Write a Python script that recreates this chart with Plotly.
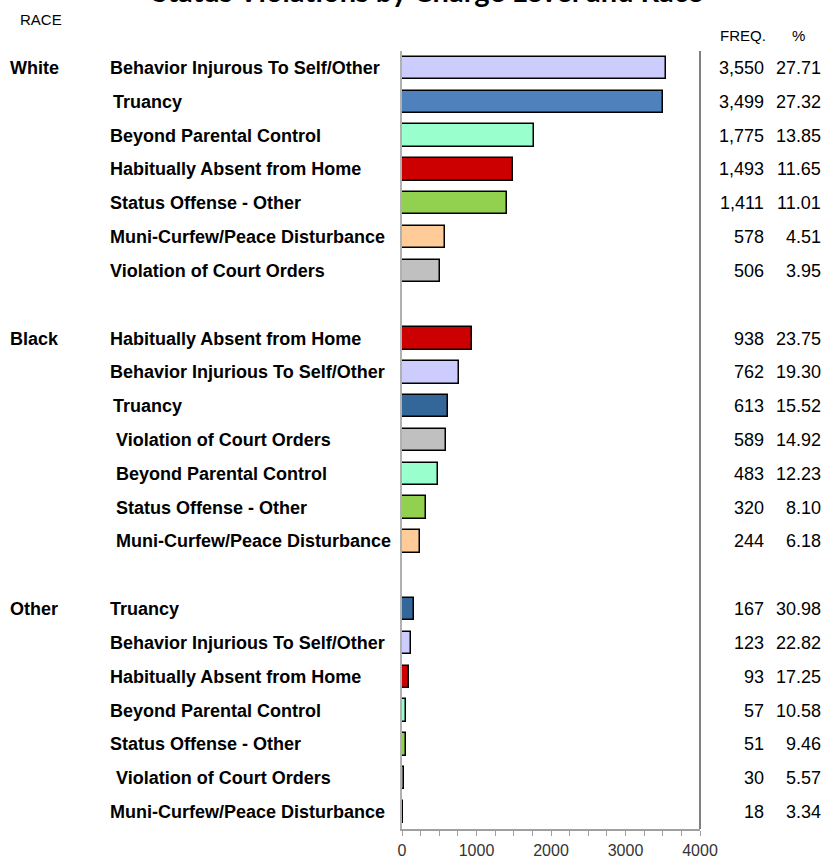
import plotly.graph_objects as go

# ---------------- data ----------------
races = ["White", "Black", "Other"]

white_labels = ["Behavior Injurous To Self/Other", "Truancy", "Beyond Parental Control",
                "Habitually Absent from Home", "Status Offense - Other",
                "Muni-Curfew/Peace Disturbance", "Violation of Court Orders"]
white_charges = ["Behavior Injurious To Self/Other", "Truancy", "Beyond Parental Control",
                 "Habitually Absent from Home", "Status Offense - Other",
                 "Muni-Curfew/Peace Disturbance", "Violation of Court Orders"]
white_freq = [3550, 3499, 1775, 1493, 1411, 578, 506]
white_pct = [27.71, 27.32, 13.85, 11.65, 11.01, 4.51, 3.95]

black_charges = ["Habitually Absent from Home", "Behavior Injurious To Self/Other", "Truancy",
                 "Violation of Court Orders", "Beyond Parental Control",
                 "Status Offense - Other", "Muni-Curfew/Peace Disturbance"]
black_labels = black_charges
black_freq = [938, 762, 613, 589, 483, 320, 244]
black_pct = [23.75, 19.30, 15.52, 14.92, 12.23, 8.10, 6.18]

other_charges = ["Truancy", "Behavior Injurious To Self/Other", "Habitually Absent from Home",
                 "Beyond Parental Control", "Status Offense - Other",
                 "Violation of Court Orders", "Muni-Curfew/Peace Disturbance"]
other_labels = other_charges
other_freq = [167, 123, 93, 57, 51, 30, 18]
other_pct = [30.98, 22.82, 17.25, 10.58, 9.46, 5.57, 3.34]

x_ticks = [0, 1000, 2000, 3000, 4000]

# ---------------- styles ----------------
charge_colors = {
    "Behavior Injurious To Self/Other": "#CCCCFF",
    "Truancy": "#336699",
    "Beyond Parental Control": "#99FFCC",
    "Habitually Absent from Home": "#CC0000",
    "Status Offense - Other": "#92D050",
    "Muni-Curfew/Peace Disturbance": "#FFCC99",
    "Violation of Court Orders": "#C0C0C0",
}
white_truancy_color = "#4F81BD"
indented = {("Black", "Violation of Court Orders"), ("Black", "Beyond Parental Control"),
            ("Black", "Status Offense - Other"), ("Black", "Muni-Curfew/Peace Disturbance"),
            ("Other", "Violation of Court Orders")}
half_indented = {("White", "Truancy"), ("Black", "Truancy")}

groups = [
    ("White", white_charges, white_labels, white_freq, white_pct),
    ("Black", black_charges, black_labels, black_freq, black_pct),
    ("Other", other_charges, other_labels, other_freq, other_pct),
]

L, R, T, B = 402, 135, 51, 32
W, H = 835, 861
pw = W - L - R
ph = H - T - B


def px_to_paper_x(px):
    return (px - L) / pw


def px_to_paper_y(py):
    return 1 - (py - T) / ph


FAM = "Liberation Sans Narrow, Arial Narrow, Liberation Sans, Arial"
label_font = dict(family=FAM, size=18, color="#000000")
num_font = dict(family=FAM, size=18, color="#000000")

fig = go.Figure()
annotations = []
for gi, (race, charges, labels, freqs, pcts) in enumerate(groups):
    ys = []
    colors = []
    for i, ch in enumerate(charges):
        y = gi * 8 + i
        ys.append(y)
        c = charge_colors[ch]
        if race == "White" and ch == "Truancy":
            c = white_truancy_color
        colors.append(c)
        lx = 108
        if (race, ch) in indented:
            lx = 114
        elif (race, ch) in half_indented:
            lx = 111
        annotations.append(dict(x=px_to_paper_x(lx), xref="paper", y=y, yref="y",
                                text="<b>" + labels[i] + "</b>", showarrow=False,
                                xanchor="left", yanchor="middle", font=label_font))
        annotations.append(dict(x=px_to_paper_x(766), xref="paper", y=y, yref="y",
                                text=f"{freqs[i]:,}", showarrow=False,
                                xanchor="right", yanchor="middle", font=num_font))
        annotations.append(dict(x=px_to_paper_x(823), xref="paper", y=y, yref="y",
                                text=f"{pcts[i]:.2f}", showarrow=False,
                                xanchor="right", yanchor="middle", font=num_font))
    annotations.append(dict(x=px_to_paper_x(8), xref="paper", y=gi * 8, yref="y",
                            text="<b>" + race + "</b>", showarrow=False,
                            xanchor="left", yanchor="middle", font=label_font))
    fig.add_trace(go.Bar(
        x=freqs, y=ys, orientation="h", width=0.66,
        marker=dict(color=colors, line=dict(color="#000000", width=1.5)),
        showlegend=False, hoverinfo="skip",
    ))

small_font = dict(family=FAM, size=15, color="#000")
annotations += [
    dict(x=px_to_paper_x(18), xref="paper", y=px_to_paper_y(19), yref="paper",
         text="RACE", showarrow=False, xanchor="left", yanchor="middle", font=small_font),
    dict(x=px_to_paper_x(743), xref="paper", y=px_to_paper_y(36), yref="paper",
         text="FREQ.", showarrow=False, xanchor="center", yanchor="middle", font=small_font),
    dict(x=px_to_paper_x(798), xref="paper", y=px_to_paper_y(36), yref="paper",
         text="%", showarrow=False, xanchor="center", yanchor="middle", font=small_font),
    dict(x=px_to_paper_x(427), xref="paper", y=px_to_paper_y(-9), yref="paper",
         text="<b>Status Violations by Charge Level and Race</b>", showarrow=False,
         xanchor="center", yanchor="middle",
         font=dict(family="Lato, Open Sans, Liberation Sans", size=29, color="#000")),
]

fig.update_layout(
    width=W, height=H,
    margin=dict(l=L, r=R, t=T, b=B, autoexpand=False),
    paper_bgcolor="white", plot_bgcolor="white",
    annotations=annotations,
    bargap=0,
    xaxis=dict(range=[0, 4000], tickvals=x_ticks, showgrid=False, zeroline=False,
               automargin=False,
               showline=True, linecolor="#A0A0A0", linewidth=1.5,
               ticks="outside", ticklen=5, tickcolor="#A0A0A0",
               ticklabelstandoff=1,
               minor=dict(dtick=250, ticks="outside", ticklen=5, tickcolor="#A0A0A0"),
               tickfont=dict(family=FAM, size=16, color="#333")),
    yaxis=dict(range=[22.5, -0.5], showticklabels=False, showgrid=False, zeroline=False,
               automargin=False,
               showline=True, linecolor="#B0B0B0", linewidth=2, ticks=""),
    shapes=[dict(type="line", xref="paper", yref="paper", x0=1, x1=1, y0=0, y1=1,
                 line=dict(color="#808080", width=2))],
)

fig.write_html("out.html", config={"displayModeBar": False},
               post_script="document.body.style.margin='0px';")
